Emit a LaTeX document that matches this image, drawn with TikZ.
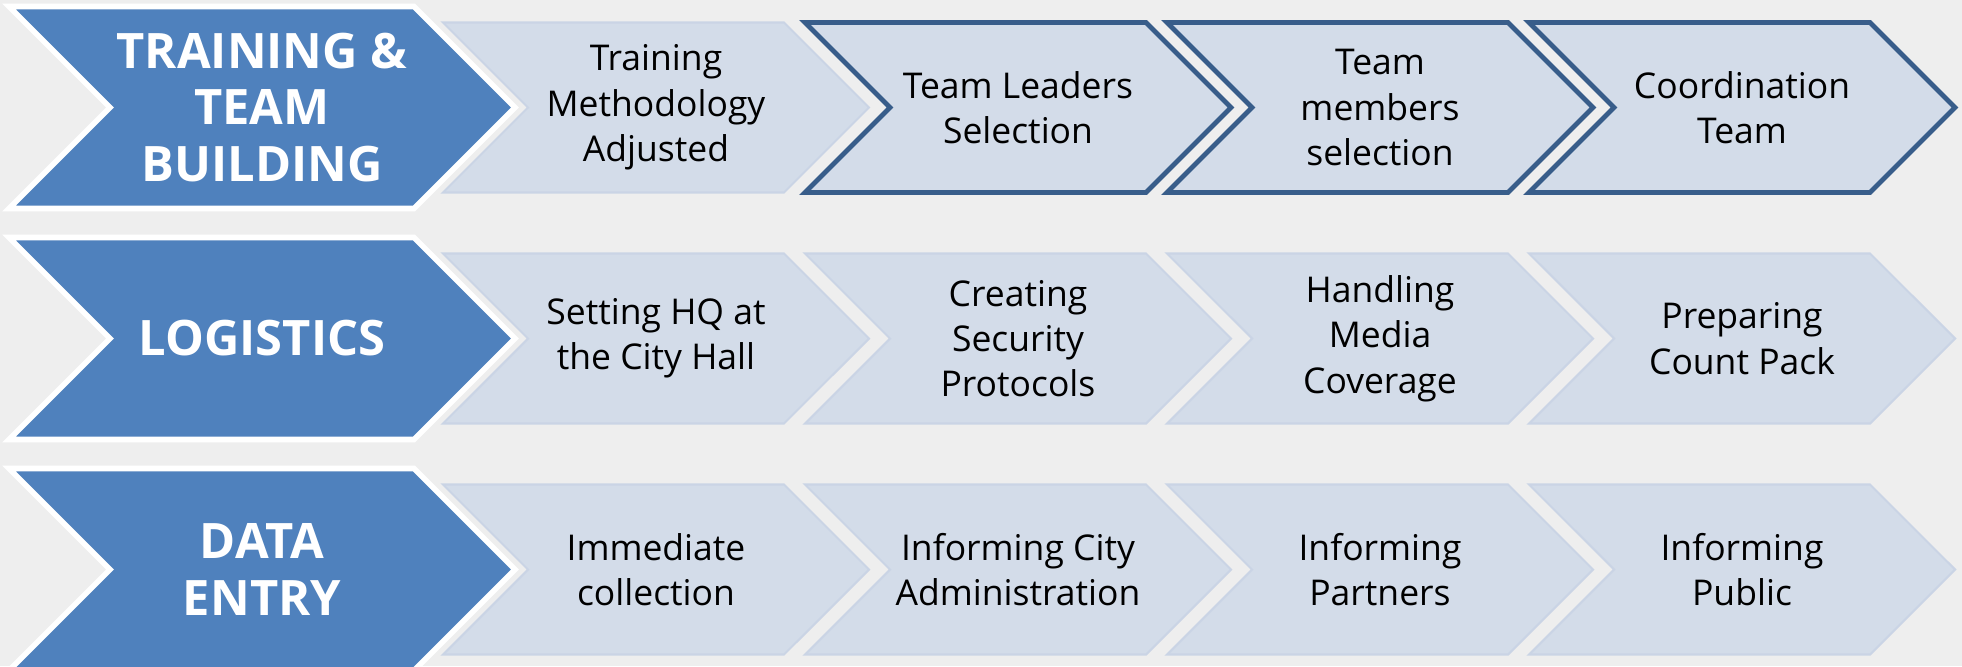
\documentclass[tikz,border=0pt]{standalone}
\usepackage{fontspec}
\setmainfont{Open Sans}
\usepackage{tikz}
\usetikzlibrary{shapes.symbols}
\definecolor{fondo}{HTML}{EEEEEE}
\definecolor{azul}{HTML}{4F81BD}
\definecolor{azulclaro}{HTML}{D3DCE9}
\definecolor{bordeclaro}{HTML}{CAD4E5}
\definecolor{azuloscuro}{HTML}{385D8A}

\begin{document}
\begin{tikzpicture}[
    fase/.style={signal, signal from=west, signal to=east, signal pointer angle=90,
        minimum width=5.06cm, minimum height=2.02cm, inner sep=0pt,
        fill=azul, draw=white, line width=1.6pt, text=white, align=center,
        font=\fontsize{13.9}{16.2}\selectfont\bfseries},
    paso/.style={signal, signal from=west, signal to=east, signal pointer angle=90,
        minimum width=4.26cm, minimum height=1.70cm, inner sep=0pt,
        fill=azulclaro, draw=bordeclaro, line width=0.6pt, align=center,
        font=\fontsize{10.1}{12.9}\selectfont},
    marcado/.style={paso, draw=azuloscuro, line width=1.4pt}
]

% Fondo
\fill[fondo] (0, 0) rectangle (19.62, 6.66);
\useasboundingbox (0, 0) rectangle (19.62, 6.66);

% Fila 1: formacion
\node[fase] (f1) at (2.62, 5.585) {TRAINING \&\\TEAM\\BUILDING};
\node[paso] (f1a) at (6.56, 5.585) {Training\\Methodology\\Adjusted};
\node[marcado] (f1b) at (10.18, 5.585) {Team Leaders\\Selection};
\node[marcado] (f1c) at (13.80, 5.585) {Team\\members\\selection};
\node[marcado] (f1d) at (17.42, 5.585) {Coordination\\Team};

% Fila 2: logistica
\node[fase] (f2) at (2.62, 3.275) {LOGISTICS};
\node[paso] (f2a) at (6.56, 3.275) {Setting HQ at\\the City Hall};
\node[paso] (f2b) at (10.18, 3.275) {Creating\\Security\\Protocols};
\node[paso] (f2c) at (13.80, 3.275) {Handling\\Media\\Coverage};
\node[paso] (f2d) at (17.42, 3.275) {Preparing\\Count Pack};

% Fila 3: datos
\node[fase] (f3) at (2.62, 0.965) {DATA\\ENTRY};
\node[paso] (f3a) at (6.56, 0.965) {Immediate\\collection};
\node[paso] (f3b) at (10.18, 0.965) {Informing City\\Administration};
\node[paso] (f3c) at (13.80, 0.965) {Informing\\Partners};
\node[paso] (f3d) at (17.42, 0.965) {Informing\\Public};

\end{tikzpicture}
\end{document}
